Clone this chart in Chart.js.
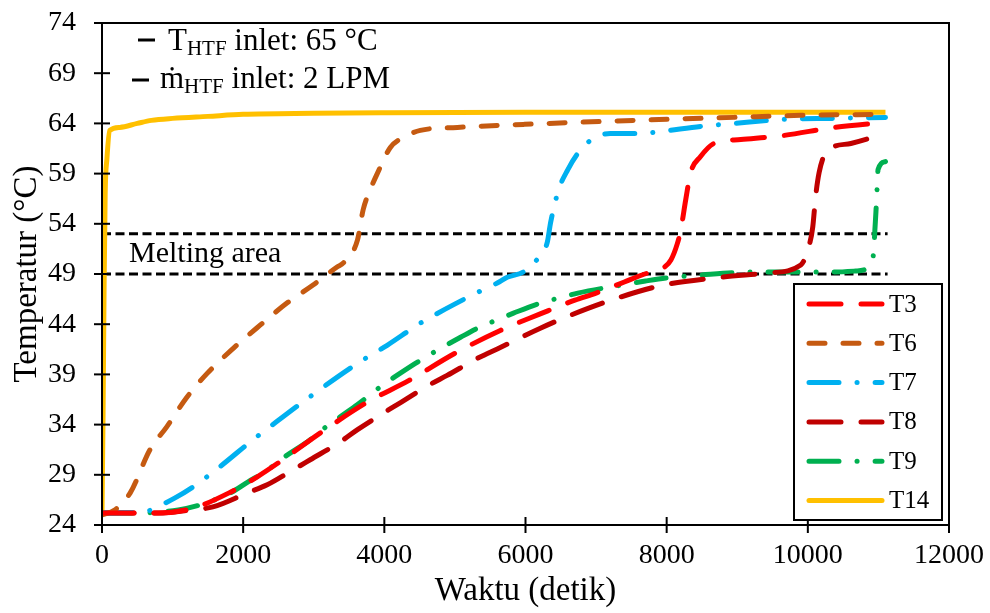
<!DOCTYPE html>
<html>
<head>
<meta charset="utf-8">
<script src="https://cdn.jsdelivr.net/npm/chart.js@4.4.1/dist/chart.umd.min.js"></script>
<style>
html, body { margin: 0; padding: 0; background: #fff; }
</style>
</head>
<body>
<canvas id="grafikSuhu" width="990" height="613"></canvas>
<script>
// data hasil pengukuran (waktu dalam detik, suhu dalam °C)
const t3Waktu = [0, 500, 800, 1300, 1800, 2200, 2500, 3100, 3750, 4350, 5000, 5650, 6200, 6700, 7000, 7400, 7650, 7820, 7950, 8060, 8150, 8200, 8270, 8340, 8480, 8670, 9050, 9660, 10370, 11100]
const t3Suhu = [25.2, 25.2, 25.2, 25.7, 27.2, 28.8, 30.2, 33.2, 36.2, 38.4, 41.1, 43.4, 45.0, 46.4, 47.1, 48.2, 48.9, 49.3, 49.6, 50.4, 52.0, 53.4, 56.4, 59.1, 60.7, 62.0, 62.4, 62.8, 63.6, 64.1]

const t6Waktu = [0, 180, 400, 680, 920, 1200, 1490, 1860, 2240, 2620, 2990, 3330, 3420, 3620, 3700, 3800, 3900, 4085, 4270, 4510, 5035, 5970, 7530, 8950, 9900, 11100]
const t6Suhu = [25.0, 25.5, 27.2, 31.5, 33.8, 36.7, 39.1, 41.6, 43.9, 46.1, 47.9, 49.7, 50.1, 52.4, 55.4, 57.4, 59.0, 61.6, 62.6, 63.3, 63.6, 63.9, 64.3, 64.6, 64.8, 64.9]

const t7Waktu = [0, 600, 780, 1035, 1290, 1670, 2140, 2570, 2950, 3620, 4040, 4510, 4890, 5330, 5600, 5750, 5970, 6170, 6310, 6355, 6470, 6600, 6740, 6920, 7200, 7630, 7920, 8480, 8950, 9660, 10370, 11100]
const t7Suhu = [25.2, 25.3, 25.8, 26.7, 27.8, 29.8, 32.5, 34.8, 36.8, 40.1, 41.9, 44.1, 45.6, 47.2, 48.1, 48.7, 49.2, 50.5, 52.2, 54.1, 57.4, 59.4, 61.0, 62.3, 63.0, 63.0, 63.2, 63.7, 64.0, 64.4, 64.5, 64.6]

const t8Waktu = [0, 800, 1250, 1570, 2060, 2340, 2710, 2950, 3380, 3620, 4230, 4650, 4890, 5320, 5650, 6210, 6640, 7300, 7960, 8670, 9430, 9900, 10000, 10070, 10110, 10160, 10250, 10370, 10610, 11100]
const t8Suhu = [25.2, 25.2, 25.5, 25.8, 27.2, 28.0, 29.5, 30.5, 32.3, 33.5, 36.2, 38.0, 38.9, 40.6, 41.7, 43.6, 44.9, 46.6, 47.9, 48.6, 49.1, 49.9, 51.4, 53.7, 56.7, 59.1, 61.1, 61.7, 62.0, 63.0]

const t9Waktu = [0, 500, 1080, 1390, 1820, 2070, 2310, 2570, 2950, 3160, 3380, 3620, 3990, 4200, 4440, 4700, 5080, 5320, 5550, 5830, 6210, 6470, 6740, 7450, 7700, 7990, 8480, 9290, 9900, 10370, 10680, 10890, 10935, 10950, 10965, 10980, 10995, 11100]
const t9Suhu = [25.2, 25.2, 25.5, 26.0, 27.2, 28.3, 29.3, 30.7, 32.5, 33.7, 34.8, 36.0, 38.0, 39.0, 40.1, 41.2, 42.7, 43.6, 44.3, 45.1, 46.1, 46.6, 47.1, 48.0, 48.3, 48.6, 48.9, 49.2, 49.2, 49.2, 49.3, 49.9, 51.4, 53.4, 55.2, 57.4, 59.4, 60.2]

const t14Waktu = [0, 15, 30, 45, 70, 110, 250, 500, 700, 1000, 1500, 2000, 3000, 4000, 6000, 8000, 10000, 11100]
const t14Suhu = [25.2, 35, 48, 57, 60.5, 63.3, 63.6, 64.0, 64.3, 64.5, 64.7, 64.9, 65.0, 65.05, 65.1, 65.1, 65.1, 65.1]

// batas area leleh
const lelehWaktu = [0, 11130]
const lelehBawah = [49, 49]
const lelehAtas = [53, 53]

const ticksX = [0, 2000, 4000, 6000, 8000, 10000, 12000]
const ticksY = [24, 29, 34, 39, 44, 49, 54, 59, 64, 69, 74]

function titik(waktu, suhu) {
    return waktu.map((w, i) => ({ x: w, y: suhu[i] }))
}

function seri(label, waktu, suhu, warna, dash) {
    return {
        label: label,
        data: titik(waktu, suhu),
        borderColor: warna,
        backgroundColor: warna,
        borderWidth: 5,
        borderDash: dash,
        borderCapStyle: dash.length ? 'round' : 'butt',
        cubicInterpolationMode: 'monotone',
        pointRadius: 0,
        fill: false
    }
}

function garisLeleh(suhu) {
    return {
        label: 'leleh',
        data: titik(lelehWaktu, suhu),
        borderColor: '#000000',
        borderWidth: 3,
        borderDash: [9, 4.5],
        pointRadius: 0,
        fill: false
    }
}

const FONT = 'Liberation Serif'

// bingkai, tick silang, keterangan dan legenda
const tambahan = {
    id: 'tambahan',
    afterDraw(chart) {
        const ctx = chart.ctx
        const area = chart.chartArea
        const sx = chart.scales.x
        const sy = chart.scales.y
        ctx.save()
        ctx.strokeStyle = '#000'
        ctx.lineWidth = 2
        ctx.setLineDash([])
        ctx.strokeRect(area.left, area.top, area.right - area.left, area.bottom - area.top)
        sy.ticks.forEach(t => {
            const y = sy.getPixelForValue(t.value)
            ctx.beginPath(); ctx.moveTo(area.left - 8, y); ctx.lineTo(area.left + 8, y); ctx.stroke()
        })
        sx.ticks.forEach(t => {
            const x = sx.getPixelForValue(t.value)
            ctx.beginPath(); ctx.moveTo(x, area.bottom - 8); ctx.lineTo(x, area.bottom + 8); ctx.stroke()
        })

        // keterangan kondisi HTF
        ctx.fillStyle = '#000'
        ctx.lineWidth = 3
        ctx.beginPath(); ctx.moveTo(138, 40); ctx.lineTo(155, 40); ctx.stroke()
        ctx.beginPath(); ctx.moveTo(132, 80); ctx.lineTo(149, 80); ctx.stroke()
        ctx.textBaseline = 'alphabetic'
        ctx.textAlign = 'left'
        const baris = (x, y, depan, sisa) => {
            ctx.font = '31px "' + FONT + '"'
            ctx.fillText(depan, x, y)
            x += ctx.measureText(depan).width
            ctx.font = '21px "' + FONT + '"'
            ctx.fillText('HTF', x, y + 5)
            x += ctx.measureText('HTF').width
            ctx.font = '31px "' + FONT + '"'
            ctx.fillText(sisa, x, y)
        }
        baris(168, 50, 'T', ' inlet: 65 °C')
        baris(160, 88, '\u1E41', ' inlet: 2 LPM')

        ctx.font = '30px "' + FONT + '"'
        ctx.fillText('Melting area', 129, 262)

        // legenda
        const kiri = area.right - 155, atas = area.bottom - 241
        const lebar = 148, tinggi = 236
        ctx.fillStyle = '#fff'
        ctx.fillRect(kiri, atas, lebar, tinggi)
        ctx.strokeStyle = '#000'
        ctx.lineWidth = 2
        ctx.strokeRect(kiri, atas, lebar, tinggi)
        ctx.font = '25px "' + FONT + '"'
        ctx.textBaseline = 'middle'
        chart.data.datasets.filter(d => d.label !== 'leleh').forEach((d, i) => {
            const y = atas + 20 + i * 39.3
            ctx.strokeStyle = d.borderColor
            ctx.lineWidth = d.borderWidth
            ctx.lineCap = 'round'
            ctx.setLineDash(d.borderDash)
            ctx.beginPath(); ctx.moveTo(kiri + 15, y); ctx.lineTo(kiri + 88, y); ctx.stroke()
            ctx.setLineDash([])
            ctx.fillStyle = '#000'
            ctx.fillText(d.label, kiri + 95, y + 1)
        })
        ctx.restore()
    }
}

const grafik = new Chart(document.getElementById('grafikSuhu').getContext('2d'), {
    type: 'line',
    data: {
        datasets: [
            seri('T3', t3Waktu, t3Suhu, '#FF0000', [32, 20]),
            seri('T6', t6Waktu, t6Suhu, '#C55A11', [16, 18]),
            seri('T7', t7Waktu, t7Suhu, '#00B0F0', [30, 18, 0.1, 18]),
            seri('T8', t8Waktu, t8Suhu, '#C00000', [32, 20]),
            seri('T9', t9Waktu, t9Suhu, '#00B050', [30, 18, 0.1, 18]),
            seri('T14', t14Waktu, t14Suhu, '#FFC000', []),
            garisLeleh(lelehAtas),
            garisLeleh(lelehBawah)
        ]
    },
    options: {
        responsive: false,
        animation: false,
        layout: { padding: { top: 23, right: 41, left: 0, bottom: 0 } },
        plugins: {
            legend: { display: false },
            tooltip: { enabled: false }
        },
        scales: {
            x: {
                type: 'linear',
                min: 0,
                max: 12000,
                afterFit: s => { s.height = 88; s.paddingLeft = 0; s.paddingRight = 0 },
                afterBuildTicks: s => { s.ticks = ticksX.map(v => ({ value: v })) },
                grid: { display: false, drawTicks: false },
                border: { display: false },
                ticks: {
                    color: '#000',
                    padding: 14,
                    maxRotation: 0,
                    font: { family: FONT, size: 28 },
                    callback: v => String(v)
                },
                title: {
                    display: true,
                    text: 'Waktu (detik)',
                    color: '#000',
                    font: { family: FONT, size: 33 },
                    padding: { top: 0, bottom: 2 }
                }
            },
            y: {
                min: 24,
                max: 74,
                afterFit: s => { s.width = 102; s.paddingTop = 0; s.paddingBottom = 0 },
                afterBuildTicks: s => { s.ticks = ticksY.map(v => ({ value: v })) },
                grid: { display: false, drawTicks: false },
                border: { display: false },
                ticks: {
                    color: '#000',
                    padding: 26,
                    font: { family: FONT, size: 28 },
                    callback: v => String(v)
                },
                title: {
                    display: true,
                    text: 'Temperatur (°C)',
                    color: '#000',
                    font: { family: FONT, size: 33 },
                    padding: { top: 8, bottom: 0 }
                }
            }
        }
    },
    plugins: [tambahan]
})
</script>
</body>
</html>
